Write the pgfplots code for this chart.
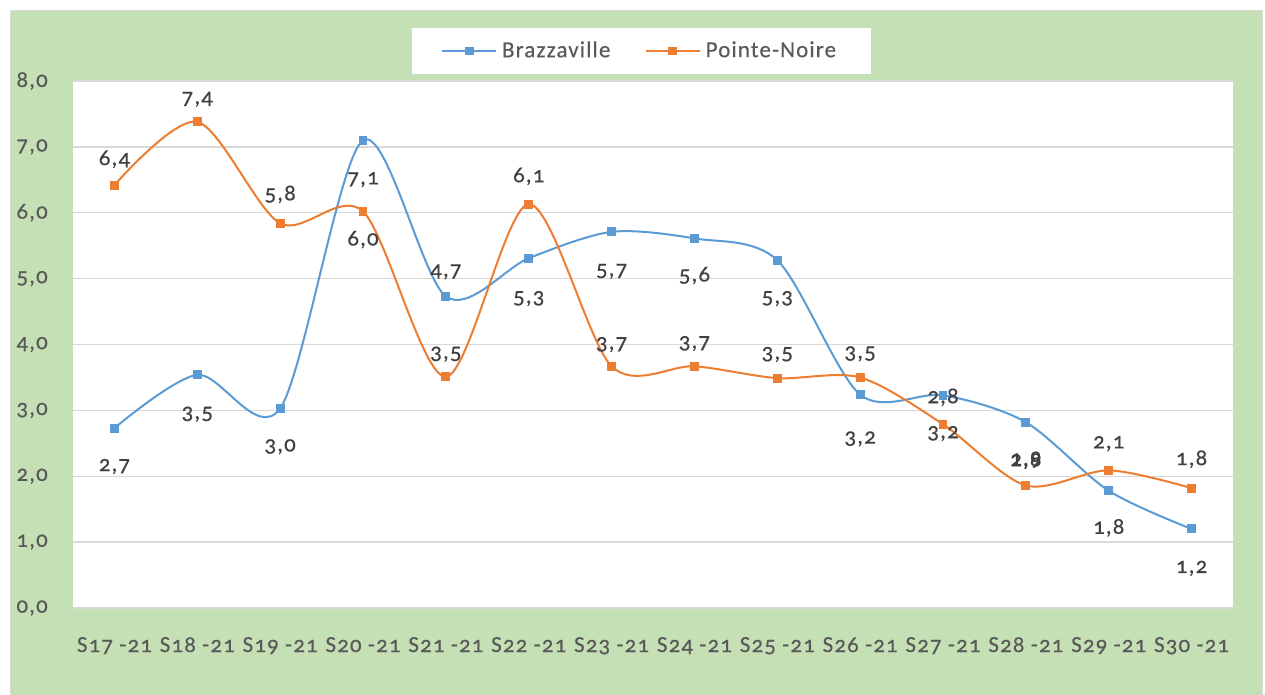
\documentclass[border=0pt]{standalone}
\usepackage{pgfplots}
\pgfplotsset{compat=1.18}
\usepackage{pgfplotstable}
\usepackage{fontspec}
\setmainfont{Carlito}[Numbers=OldStyle, LetterSpace=5, FakeBold=0.4]
\definecolor{bggreen}{HTML}{C5E0B4}
\definecolor{cblue}{HTML}{5B9BD5}
\definecolor{corange}{HTML}{ED7D31}
\definecolor{txt}{HTML}{595959}
\definecolor{lab}{HTML}{404040}
\definecolor{gridc}{HTML}{D9D9D9}

\pgfplotstableread{
x y s
0 2.73 37
1 3.54 38
2 3.03 37
3 7.10 38
4 4.73 -26
5 5.31 39
6 5.71 38
7 5.61 37
8 5.28 37
9 3.24 43
10 3.23 37
11 2.82 38
12 1.78 37
13 1.20 38
}\brazza

\pgfplotstableread{
x y s
0 6.42 -26
1 7.38 -24
2 5.84 -29
3 6.02 28
4 3.51 -24
5 6.13 -28
6 3.67 -23
7 3.67 -24
8 3.49 -25
9 3.50 -25
10 2.79 -27
11 1.86 -26
12 2.09 -28
13 1.82 -29
}\pointe

\begin{document}
\fontsize{17.2pt}{20pt}\selectfont
\begin{tikzpicture}
\useasboundingbox (0,0) rectangle (948.75pt,-520.5pt);
\fill[white] (0,0) rectangle (948.75pt,-520.5pt);
\filldraw[fill=bggreen, draw=gridc, line width=0.75pt] (7.5pt,-7.5pt) rectangle (946.5pt,-522pt);
\begin{axis}[
  at={(54.75pt,-456pt)}, anchor=south west,
  scale only axis, width=870pt, height=395.25pt,
  axis background/.style={fill=white},
  xmin=-0.5, xmax=13.5, ymin=0, ymax=8,
  xtick={0,...,13},
  xticklabels={S17 -21,S18 -21,S19 -21,S20 -21,S21 -21,S22 -21,S23 -21,S24 -21,S25 -21,S26 -21,S27 -21,S28 -21,S29 -21,S30 -21},
  ytick={0,1,...,8},
  axis lines=left,
  axis line style={draw=none},
  major tick length=0pt,
  ymajorgrids,
  grid style={draw=gridc, line width=1pt},
  /pgf/number format/.cd, fixed, fixed zerofill, precision=1, use comma, assume math mode=true,
  /pgfplots/.cd,
  tick label style={text=txt, inner sep=0pt},
  yticklabel style={anchor=east, xshift=-18.75pt},
  xticklabel style={anchor=base, yshift=-33pt},
  legend style={at={(0.490,1.057)}, anchor=center, draw=none, fill=white,
    inner xsep=22pt, inner ysep=8pt, text=txt, legend columns=2,
    nodes={inner xsep=4pt},
    /tikz/every even column/.append style={column sep=22pt}},
  legend image code/.code={%
    \draw[#1, mark repeat=2, mark phase=2] plot coordinates {(0pt,0pt) (20pt,0pt) (40pt,0pt)};},
  nodes near coords={\pgfmathprintnumber{\pgfplotspointmeta}},
  point meta=y,
  visualization depends on={\thisrow{s} \as \ls},
  nodes near coords style={text=lab, anchor=base, inner sep=0pt, yshift={-(\ls+6)*0.75pt}},
]
\addplot[cblue, line width=1.5pt, smooth, mark=square*, mark size=2.6pt,
  mark options={solid, fill=cblue, draw=cblue}] table[x=x,y=y] {\brazza};
\addlegendentry{Brazzaville}
\addplot[corange, line width=1.5pt, smooth, mark=square*, mark size=2.6pt,
  mark options={solid, fill=corange, draw=corange}] table[x=x,y=y] {\pointe};
\addlegendentry{Pointe-Noire}
\end{axis}
\end{tikzpicture}
\end{document}
